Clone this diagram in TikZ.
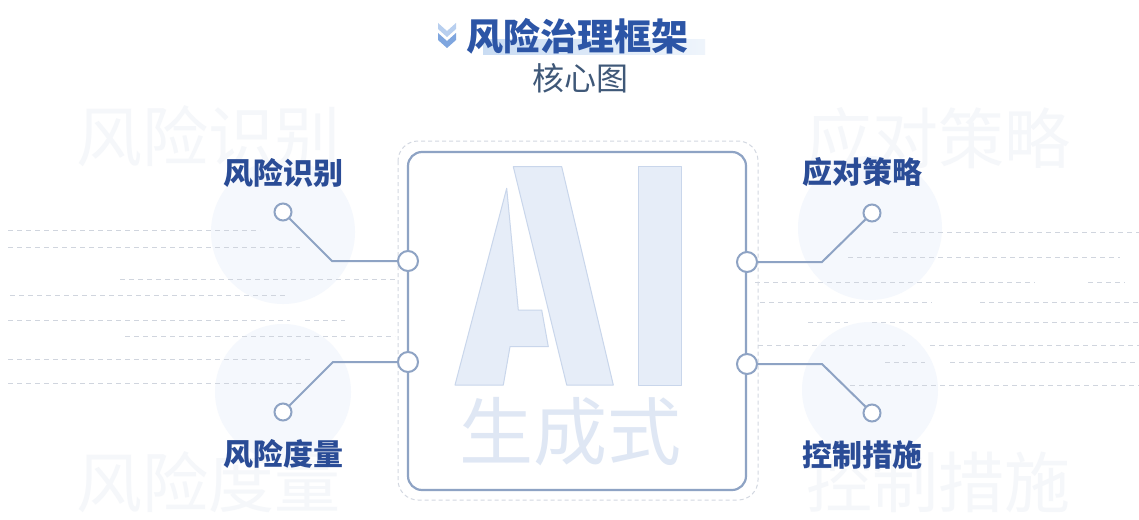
\documentclass[tikz,border=0pt]{standalone}
\usepackage{fontspec}
\newfontfamily\cjk{Noto Sans CJK SC}
\definecolor{titleblue}{HTML}{2C55A6}
\definecolor{labelblue}{HTML}{2A4C96}
\definecolor{subgray}{HTML}{3F5878}
\definecolor{lineblue}{HTML}{8EA3C4}
\definecolor{aifill}{HTML}{E6EDF8}
\definecolor{aiedge}{HTML}{C9D6EB}
\definecolor{dashgray}{HTML}{D0D5DE}
\definecolor{wmark}{HTML}{F5F7FA}
\definecolor{blob}{HTML}{F5F8FD}
\definecolor{barblue}{HTML}{C9DCF3}
\definecolor{chevlight}{HTML}{B8CFEF}
\definecolor{chevdark}{HTML}{7FA6DF}
\definecolor{outerdash}{HTML}{D3D8E1}
\begin{document}
\begin{tikzpicture}[x=1pt,y=-1pt,
  port/.style={circle,draw=lineblue,fill=white,line width=2pt,minimum size=20pt,inner sep=0pt},
  endpt/.style={circle,draw=lineblue,fill=white,line width=2pt,minimum size=17pt,inner sep=0pt},
  conn/.style={draw=lineblue,line width=2pt},
  label/.style={font=\cjk\bfseries\fontsize{30}{30}\selectfont,text=labelblue,inner sep=0pt},
  wm/.style={font=\cjk\fontsize{66}{66}\selectfont,text=wmark,inner sep=0pt},
  bgdash/.style={draw=dashgray,line width=1pt,dash pattern=on 5pt off 4pt},
  aishape/.style={fill=aifill,draw=aiedge,line width=1pt,line join=round}]
\useasboundingbox (0,0) rectangle (1139,519);
\fill[white] (0,0) rectangle (1139,519);
% soft blobs
\fill[blob] (283,232) circle (72);
\fill[blob] (283,392) circle (68);
\fill[blob] (870,228) circle (72);
\fill[blob] (870,390) circle (68);
% watermark texts
\node[wm] (w1) at (208,136) {风险识别};
\node[wm] (w2) at (208,482) {风险度量};
\node[wm] (w3) at (938,138) {应对策略};
\node[wm] (w4) at (938,482) {控制措施};
% background dashed lines (left)
\draw[bgdash] (8,230) -- (260,230);
\draw[bgdash] (8,247) -- (300,247);
\draw[bgdash] (120,279) -- (395,279);
\draw[bgdash] (10,295) -- (285,295);
\draw[bgdash] (8,320) -- (290,320);
\draw[bgdash] (305,320) -- (345,320);
\draw[bgdash] (125,336) -- (395,336);
\draw[bgdash] (8,359) -- (310,359);
\draw[bgdash] (8,383) -- (305,383);
% background dashed lines (right)
\draw[bgdash] (893,232) -- (1139,232);
\draw[bgdash] (848,257) -- (1120,257);
\draw[bgdash] (755,282) -- (1035,282);
\draw[bgdash] (1088,282) -- (1125,282);
\draw[bgdash] (760,302) -- (932,302);
\draw[bgdash] (980,302) -- (1139,302);
\draw[bgdash] (808,322) -- (848,322);
\draw[bgdash] (872,322) -- (1139,322);
\draw[bgdash] (758,345) -- (905,345);
\draw[bgdash] (930,345) -- (1139,345);
\draw[bgdash] (885,362) -- (925,362);
\draw[bgdash] (950,362) -- (1139,362);
\draw[bgdash] (850,385) -- (1139,385);
% title
\shade[left color=barblue,right color=barblue!30] (483,40) rectangle (705,55);
\fill[chevlight] (438,23) -- (447,31) -- (456,23) -- (456,29) -- (447,37) -- (438,29) -- cycle;
\fill[chevdark] (438,33) -- (447,41) -- (456,33) -- (456,40) -- (447,48) -- (438,40) -- cycle;
\node[font=\cjk\bfseries\fontsize{37}{37}\selectfont,text=titleblue,inner sep=0pt] (title) at (577,36) {风险治理框架};
\node[font=\cjk\fontsize{32}{32}\selectfont,text=subgray,inner sep=0pt] (sub) at (580,78) {核心图};
% frames
\draw[outerdash,line width=1pt,dash pattern=on 4pt off 3pt,rounded corners=20pt] (398,141) rectangle (758,500);
\draw[lineblue,line width=2.2pt,rounded corners=14pt] (408,152) rectangle (746,490);
% AI letters
\draw[aishape] (513.3,166.7) -- (561.7,166.7) -- (613.3,385) -- (566.7,385) -- cycle;
\draw[aishape] (506.7,188.3) -- (518.3,310) -- (541.7,310) -- (548.3,346.7) -- (510,346.7) -- (503.3,385) -- (455,385) -- cycle;
\draw[aishape] (638.3,166.7) rectangle (681.7,385);
\node[font=\cjk\fontsize{74}{74}\selectfont,text=aifill!92!lineblue,inner sep=0pt] (gen) at (570,432) {生成式};
% ports
\node[port] (pl1) at (408,261) {};
\node[port] (pl2) at (408,362) {};
\node[port] (pr1) at (747,262) {};
\node[port] (pr2) at (747,364) {};
% endpoints
\node[endpt] (el1) at (283,212) {};
\node[endpt] (el2) at (283,412) {};
\node[endpt] (er1) at (872,213) {};
\node[endpt] (er2) at (872,413) {};
\coordinate (bl1) at (332,261);
\coordinate (bl2) at (333,362);
\coordinate (br1) at (822,262);
\coordinate (br2) at (822,364);
\draw[conn] (el1) -- (bl1) -- (pl1);
\draw[conn] (el2) -- (bl2) -- (pl2);
\draw[conn] (er1) -- (br1) -- (pr1);
\draw[conn] (er2) -- (br2) -- (pr2);
% labels
\node[label] (l1) at (283,173) {风险识别};
\node[label] (l2) at (283,454) {风险度量};
\node[label] (l3) at (862,172) {应对策略};
\node[label] (l4) at (862,455) {控制措施};
\end{tikzpicture}
\end{document}
